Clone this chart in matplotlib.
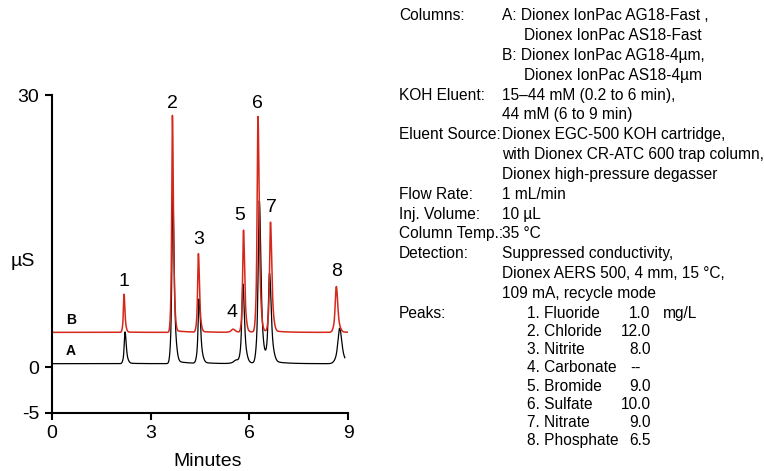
import numpy as np
import matplotlib
matplotlib.use('Agg')
from matplotlib import pyplot as plt

plt.rcParams['font.family'] = ['Liberation Sans', 'DejaVu Sans']
plt.rcParams['axes.unicode_minus'] = False

# peak table (minutes, uS above baseline, widths in min)
peak_ids = ['1', '2', '3', '4', '5', '6', '7', '8']
a_times = [2.22, 3.67, 4.47, 5.60, 5.80, 6.30, 6.61, 8.74]
a_heights = [3.5, 18.6, 7.1, 0.4, 8.7, 17.9, 9.8, 3.9]
a_sig_left = [0.020, 0.022, 0.024, 0.06, 0.026, 0.028, 0.030, 0.045]
a_sig_right = [0.030, 0.034, 0.036, 0.08, 0.038, 0.040, 0.042, 0.055]
a_base = 0.4
a_end = 8.9

b_times = [2.19, 3.66, 4.45, 5.50, 5.82, 6.26, 6.64, 8.64]
b_heights = [4.2, 23.9, 8.65, 0.35, 11.25, 23.75, 12.05, 5.05]
b_sig_left = [0.016, 0.017, 0.019, 0.04, 0.020, 0.021, 0.022, 0.028]
b_sig_right = [0.022, 0.024, 0.026, 0.05, 0.028, 0.030, 0.032, 0.036]
b_base = 3.85
b_end = 9.0

# label positions for the peak numbers
label_x = [2.19, 3.67, 4.47, 5.48, 5.69, 6.24, 6.67, 8.65]
label_y = [9.5, 29.1, 14.1, 6.06, 16.7, 29.1, 17.6, 10.6]

RED = '#d5281b'


def trace(t, base, times, heights, sl, sr, tail):
    y = np.full_like(t, base)
    for t0, h, s1, s2 in zip(times, heights, sl, sr):
        s = np.where(t < t0, s1, s2)
        z = (t - t0) / s
        # sharp tip on a wider foot
        y += h * (0.65 * np.exp(-0.5 * z ** 2) + 0.35 * np.exp(-0.5 * (z / 2.2) ** 2))
        after = t > t0
        y[after] += h * tail * np.exp(-(t[after] - t0) / 0.35) * (1 - np.exp(-(t[after] - t0) / 0.05))
    return y


ta = np.linspace(0.0, a_end, 5000)
tb = np.linspace(0.0, b_end, 5000)
ya = trace(ta, a_base, a_times, a_heights, a_sig_left, a_sig_right, 0.02)
yb = trace(tb, b_base, b_times, b_heights, b_sig_left, b_sig_right, 0.01)

fig = plt.figure(figsize=(7.64, 4.71), dpi=100)
ax = fig.add_axes([0.068, 0.1238, 0.3877, 0.6745])

ax.plot(ta, ya, color='black', lw=0.9)
ax.plot(tb, yb, color=RED, lw=1.1)

ax.set_xlim(0, 9)
ax.set_ylim(-5, 30)
ax.set_xticks([0, 3, 6, 9])
ax.set_yticks([-5, 0, 30])
for side in ['top', 'right']:
    ax.spines[side].set_visible(False)
for side in ['left', 'bottom']:
    ax.spines[side].set_linewidth(1.5)
ax.tick_params(direction='out', length=5, width=1.5, labelsize=14, pad=4)

for k, x, y in zip(peak_ids, label_x, label_y):
    ax.text(x, y, k, fontsize=14, ha='center', va='center')

ax.text(0.58, 5.2, 'B', fontsize=10, fontweight='bold', ha='center', va='center')
ax.text(0.58, 1.8, 'A', fontsize=10, fontweight='bold', ha='center', va='center')

W, H = 764.0, 471.0
fig.text(208 / W, 1 - 466 / H, 'Minutes', fontsize=14, ha='center', va='baseline')
fig.text(22.5 / W, 1 - 261.7 / H, 'µS', fontsize=14, ha='center', va='center')

# conditions block
cond_labels = ['Columns:', '', '', '', 'KOH Eluent:', '', 'Eluent Source:', '', '',
               'Flow Rate:', 'Inj. Volume:', 'Column Temp.:', 'Detection:', '', '']
cond_values = ['A: Dionex IonPac AG18-Fast ,', 'Dionex IonPac AS18-Fast',
               'B: Dionex IonPac AG18-4µm,', 'Dionex IonPac AS18-4µm',
               '15–44 mM (0.2 to 6 min),', '44 mM (6 to 9 min)',
               'Dionex EGC-500 KOH cartridge,', 'with Dionex CR-ATC 600 trap column,',
               'Dionex high-pressure degasser', '1 mL/min', '10 µL', '35 °C',
               'Suppressed conductivity,', 'Dionex AERS 500, 4 mm, 15 °C,',
               '109 mA, recycle mode']
indent = [False, True, False, True] + [False] * 11
fs = 11.2
for i, (lab, val) in enumerate(zip(cond_labels, cond_values)):
    y = 1 - (16 + 19.8 * i) / H
    if lab:
        fig.text(399 / W, y, lab, fontsize=fs, va='center')
    x = 524 if indent[i] else 502
    fig.text(x / W, y, val, fontsize=fs, va='center')

peak_names = ['1. Fluoride', '2. Chloride', '3. Nitrite', '4. Carbonate',
              '5. Bromide', '6. Sulfate', '7. Nitrate', '8. Phosphate']
peak_conc = ['1.0', '12.0', '8.0', '--', '9.0', '10.0', '9.0', '6.5']

fig.text(399 / W, 1 - 313.3 / H, 'Peaks:', fontsize=fs, va='center')
for i, (nm, c) in enumerate(zip(peak_names, peak_conc)):
    y = 1 - (313.3 + 18.2 * i) / H
    fig.text(526.7 / W, y, nm, fontsize=fs, va='center')
    if c == '--':
        fig.text(630 / W, y, c, fontsize=fs, va='center')
    else:
        fig.text(650.7 / W, y, c, fontsize=fs, va='center', ha='right')
fig.text(663 / W, 1 - 313.3 / H, 'mg/L', fontsize=fs, va='center')

fig.savefig('out.png', dpi=100)
